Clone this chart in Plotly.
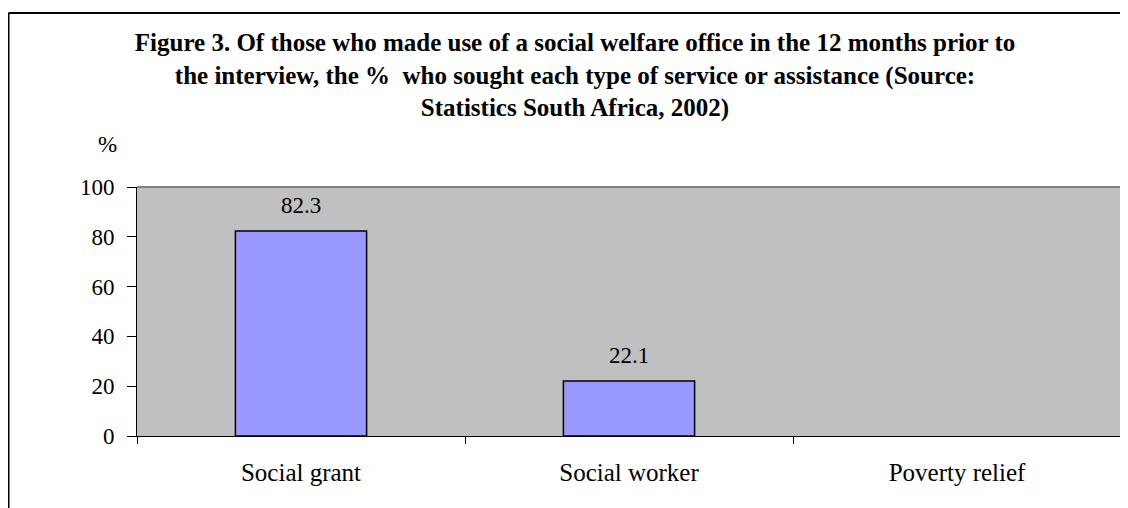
import plotly.graph_objects as go

categories = ["Social grant", "Social worker", "Poverty relief"]
values = [82.3, 22.1, None]
y_ticks = [0, 20, 40, 60, 80, 100]

title_lines = [
    "Figure 3. Of those who made use of a social welfare office in the 12 months prior to",
    "the interview, the %  who sought each type of service or assistance (Source:",
    "Statistics South Africa, 2002)",
]

# page has an 8px body margin: figure occupies page pixels (8..1128, 8..508)
OFF = 8
W, H = 1128 - OFF, 508 - OFF
L = 137 - OFF
R = W - (1121 - OFF)
T = 187 - OFF
B = H - (436 - OFF)
pw, ph = W - L - R, H - T - B

def px_x(page_px):
    return (page_px - OFF - L) / pw

def px_y(page_py):
    return (H - B - (page_py - OFF)) / ph

FONT = "Liberation Serif, Times New Roman, serif"

fig = go.Figure()
fig.add_trace(go.Bar(
    x=categories, y=values,
    marker=dict(color="#9999FF", line=dict(color="black", width=1.5)),
    width=0.4, hoverinfo="x+y",
))

for c, v in zip(categories, values):
    if v is not None:
        fig.add_annotation(x=c, y=v, text=f"{v:.1f}", showarrow=False,
                           yanchor="bottom", yshift=11,
                           font=dict(family=FONT, size=23, color="black"))

fig.add_annotation(xref="paper", yref="paper", x=px_x(107), y=px_y(145),
                   text="%", showarrow=False, xanchor="center", yanchor="middle",
                   font=dict(family=FONT, size=23, color="black"))

shapes = [
    dict(type="line", xref="paper", yref="paper", x0=0, x1=1, y0=1, y1=1,
         line=dict(color="#808080", width=2), layer="below"),
    dict(type="line", xref="paper", yref="paper", x0=1, x1=1, y0=0, y1=1,
         line=dict(color="#808080", width=2), layer="below"),
    dict(type="line", xref="paper", yref="paper", x0=px_x(8.5), x1=px_x(1140),
         y0=px_y(13), y1=px_y(13), line=dict(color="black", width=2)),
    dict(type="line", xref="paper", yref="paper", x0=px_x(8.5), x1=px_x(8.5),
         y0=px_y(13), y1=px_y(520), line=dict(color="black", width=2)),
]

fig.update_layout(
    width=W, height=H,
    margin=dict(l=L, r=R, t=T, b=B, pad=0),
    paper_bgcolor="white", plot_bgcolor="#C0C0C0",
    showlegend=False,
    bargap=0.6,
    font=dict(family=FONT, size=23, color="black"),
    title=dict(text="<br>".join(title_lines), xref="paper", x=px_x(575), xanchor="center",
               yref="container", y=1 - 43 / H, yanchor="top",
               font=dict(family=FONT, size=25, color="black", weight="bold")),
    shapes=shapes,
    xaxis=dict(type="category", showline=True, linecolor="black", linewidth=1,
               ticks="outside", tickson="boundaries", ticklen=7, tickcolor="black",
               ticklabelstandoff=14,
               showgrid=False, tickfont=dict(family=FONT, size=25), mirror=False),
    yaxis=dict(range=[0, 100], tickvals=y_ticks, showline=True, linecolor="black",
               linewidth=1, ticks="outside", ticklen=9, tickcolor="black",
               ticklabelstandoff=8,
               showgrid=False, zeroline=False, tickfont=dict(family=FONT, size=23)),
)

fig.write_html("out.html")
